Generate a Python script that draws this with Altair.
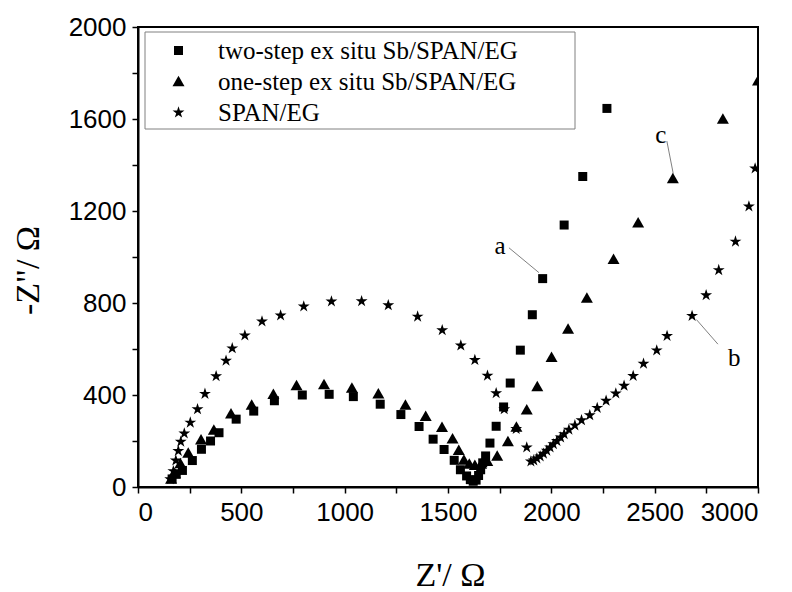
import altair as alt
import pandas as pd

# Nyquist data: Z' (real part) and -Z'' (imaginary part), in ohms
SERIES = ["two-step ex situ Sb/SPAN/EG", "one-step ex situ Sb/SPAN/EG", "SPAN/EG"]

two_step_re = [165, 185, 215, 263, 307, 351, 392, 475, 560, 660, 795, 925, 1042, 1172,
               1272, 1360, 1428, 1481, 1530, 1560, 1590, 1608, 1622, 1636, 1648, 1658,
               1668, 1682, 1703, 1733, 1769, 1801, 1850, 1908, 1958, 2062, 2152, 2269]
two_step_im = [35, 55, 72, 115, 164, 200, 236, 295, 330, 375, 400, 403, 393, 360,
               315, 263, 208, 163, 116, 75, 48, 32, 25, 30, 50, 75,
               105, 135, 191, 264, 348, 452, 595, 749, 906, 1139, 1350, 1646]

one_step_re = [160, 178, 205, 243, 305, 367, 450, 550, 655, 767, 900, 1035, 1163, 1294,
               1392, 1471, 1522, 1552, 1577, 1603, 1630, 1660, 1690, 1738, 1790, 1831,
               1881, 1932, 2001, 2081, 2172, 2301, 2420, 2588, 2830, 3000]
one_step_im = [35, 60, 102, 148, 205, 248, 318, 357, 403, 441, 446, 430, 405, 356,
               308, 260, 210, 160, 117, 100, 95, 100, 112, 135, 198, 261,
               336, 437, 564, 687, 822, 990, 1149, 1341, 1600, 1766]

span_re = [156, 171, 183, 195, 207, 224, 253, 288, 324, 378, 426, 456, 517, 600, 690,
           802, 936, 1082, 1211, 1353, 1472, 1562, 1630, 1691, 1733, 1772, 1830, 1881,
           1901, 1915, 1930, 1946, 1962, 1978, 1994, 2010, 2027, 2045, 2062, 2085, 2114,
           2146, 2186, 2222, 2265, 2312, 2352, 2396, 2446, 2510, 2560, 2681, 2749, 2810,
           2891, 2956, 2986]
span_im = [34, 69, 115, 157, 197, 233, 280, 338, 405, 482, 549, 603, 659, 720, 746,
           785, 807, 808, 790, 741, 682, 615, 552, 484, 408, 338, 252, 172,
           111, 116, 124, 133, 145, 158, 172, 186, 200, 215, 230, 249, 268,
           290, 312, 344, 375, 407, 440, 483, 536, 594, 657, 744, 834, 943,
           1067, 1220, 1385]

# Curve labels with their leader lines
ann_label = ["a", "b", "c"]
ann_text_re = [1752, 2885, 2530]
ann_text_im = [1050, 563, 1532]
ann_line_re1 = [1795, 2702, 2559]
ann_line_im1 = [1040, 728, 1504]
ann_line_re2 = [1940, 2806, 2590]
ann_line_im2 = [932, 621, 1362]

frames = []
for name, xs, ys in [(SERIES[0], two_step_re, two_step_im),
                     (SERIES[1], one_step_re, one_step_im),
                     (SERIES[2], span_re, span_im)]:
    frames.append(pd.DataFrame({"z_re": xs, "z_im": ys, "sample": name}))
df = pd.concat(frames, ignore_index=True)

ann = pd.DataFrame({
    "label": ann_label, "z_re": ann_text_re, "z_im": ann_text_im,
    "x1": ann_line_re1, "y1": ann_line_im1, "x2": ann_line_re2, "y2": ann_line_im2,
})

# Symbol outlines in the unit box (scaled by sqrt(size)/2 when drawn)
SQUARE = "M-0.9,-0.9L0.9,-0.9L0.9,0.9L-0.9,0.9Z"
TRIANGLE = "M0,-1.15L1.2,0.95L-1.2,0.95Z"
STAR = ("M0,-1.25L0.281,-0.386L1.189,-0.386L0.454,0.148L0.735,1.011L0,0.478"
        "L-0.735,1.011L-0.454,0.148L-1.189,-0.386L-0.281,-0.386Z")

x_scale = alt.Scale(domain=[0, 3000], nice=False, zero=False)
y_scale = alt.Scale(domain=[0, 2000], nice=False, zero=False)

x_axis = alt.Axis(
    title="Z'/ Ω", values=list(range(0, 3001, 250)),
    labelExpr="datum.value % 500 == 0 ? datum.label : ''",
    format="d", grid=False,
    titleX=312, titleY=88, titleBaseline="middle", titleAlign="center",
)
y_axis = alt.Axis(
    title='-Z"/ Ω', values=list(range(0, 2001, 200)),
    labelExpr="datum.value % 400 == 0 ? datum.label : ''",
    format="d", grid=False,
    titleX=-110, titleY=243, titleAngle=-90, titleBaseline="middle", titleAlign="center",
)

points = alt.Chart(df).mark_point(
    filled=True, opacity=1, color="black", size=100, strokeWidth=0, clip=True
).encode(
    x=alt.X("z_re:Q", scale=x_scale, axis=x_axis),
    y=alt.Y("z_im:Q", scale=y_scale, axis=y_axis),
    shape=alt.Shape(
        "sample:N",
        scale=alt.Scale(domain=SERIES, range=[SQUARE, TRIANGLE, STAR]),
        legend=alt.Legend(
            title=None, orient="none", legendX=7, legendY=5,
            labelFont="Liberation Serif", labelFontSize=25, labelColor="black",
            padding=6,
            symbolFillColor="black", symbolStrokeColor="black", symbolStrokeWidth=0,
            symbolSize=100, symbolOffset=15, labelOffset=27, rowPadding=5,
            labelLimit=600,
        ),
    ),
)

# Legend frame (pixel placement inside the plot area)
legend_frame = alt.Chart(df.head(1)).mark_rect(
    fill="white", stroke="#808080", strokeWidth=1
).encode(
    x=alt.value(7), x2=alt.value(437), y=alt.value(5), y2=alt.value(102),
)

leaders = alt.Chart(ann).mark_rule(color="#606060", strokeWidth=0.8).encode(
    x=alt.X("x1:Q", scale=x_scale, axis=x_axis),
    y=alt.Y("y1:Q", scale=y_scale, axis=y_axis),
    x2="x2:Q", y2="y2:Q",
)

labels = alt.Chart(ann).mark_text(font="Liberation Serif", fontSize=25, color="black").encode(
    x=alt.X("z_re:Q", scale=x_scale, axis=x_axis),
    y=alt.Y("z_im:Q", scale=y_scale, axis=y_axis),
    text="label:N",
)

chart = alt.layer(legend_frame, points, leaders, labels).properties(
    width=620, height=460,
    autosize=alt.AutoSizeParams(type="none"),
    padding={"left": 138, "top": 27, "right": 34, "bottom": 105},
    background="white",
).configure_view(
    stroke="black", strokeWidth=2,
).configure_axis(
    domainColor="black", domainWidth=2, tickColor="black", tickWidth=1.5, tickSize=6,
    labelFont="Liberation Sans", labelFontSize=26, labelColor="black", labelPadding=6,
    titleFont="Liberation Serif", titleFontSize=34, titleFontWeight="normal", titleColor="black",
)

chart.save("out.html", embed_options={"renderer": "svg", "actions": False})
